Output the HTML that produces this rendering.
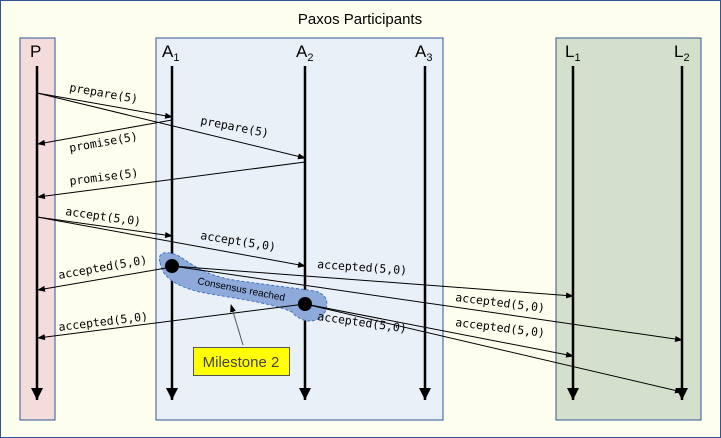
<!DOCTYPE html>
<html><head><meta charset="utf-8"><style>
html,body{margin:0;padding:0;background:#fff}
svg{display:block}
.m{font-family:"DejaVu Sans Mono","Liberation Mono",monospace;font-size:11.5px;fill:#000}
.h{font-family:"Liberation Sans",sans-serif;font-size:17px;fill:#000}
.s{font-family:"Liberation Sans",sans-serif;font-size:10px}
</style></head><body>
<svg width="721" height="438" viewBox="0 0 721 438" xmlns="http://www.w3.org/2000/svg">
<defs>
<marker id="a" markerWidth="8" markerHeight="6" refX="7" refY="3" orient="auto" markerUnits="userSpaceOnUse"><path d="M0,0 L8,3 L0,6 z" fill="#000"/></marker>
<marker id="b" markerWidth="12" markerHeight="12" refX="6" refY="12" orient="0" markerUnits="userSpaceOnUse"><path d="M0,0 L12,0 L6,12 z" fill="#000"/></marker>
</defs>
<rect x="0.5" y="0.5" width="720" height="437" fill="#fefeee" stroke="#2f5597"/>
<text x="360" y="24" text-anchor="middle" font-family="Liberation Sans,sans-serif" font-size="15">Paxos Participants</text>
<rect x="20" y="38" width="35" height="382" fill="#f5dcdc" stroke="#2f5597"/>
<rect x="156" y="38" width="287" height="382" fill="#e9f0f8" stroke="#2f5597"/>
<rect x="556" y="38" width="145" height="382" fill="#d5e0cc" stroke="#2f5597"/>
<text class="h" x="30" y="57">P</text>
<text class="h" x="162" y="57">A<tspan font-size="11" dy="4">1</tspan></text>
<text class="h" x="296" y="57">A<tspan font-size="11" dy="4">2</tspan></text>
<text class="h" x="415" y="57">A<tspan font-size="11" dy="4">3</tspan></text>
<text class="h" x="565" y="57">L<tspan font-size="11" dy="4">1</tspan></text>
<text class="h" x="674" y="57">L<tspan font-size="11" dy="4">2</tspan></text>
<g stroke="#000" stroke-width="2.5">
<line x1="37" y1="66" x2="37" y2="400" marker-end="url(#b)"/>
<line x1="172" y1="66" x2="172" y2="400" marker-end="url(#b)"/>
<line x1="305" y1="66" x2="305" y2="400" marker-end="url(#b)"/>
<line x1="425" y1="66" x2="425" y2="400" marker-end="url(#b)"/>
<line x1="573" y1="66" x2="573" y2="400" marker-end="url(#b)"/>
<line x1="682" y1="66" x2="682" y2="400" marker-end="url(#b)"/>
</g>
<path d="M160,262 C156,250 172,250 185,260 C200,270 212,277 240,281 L315,291 C330,295 328,306 324,314 C316,325 300,322 292,312 C270,302 230,298 200,292 C175,286 162,277 160,262 Z" fill="#8eaadb" stroke="#4472c4" stroke-dasharray="3,2"/>
<text class="s" x="197" y="284" transform="rotate(11 197 284)">Consensus reached</text>
<g stroke="#000" stroke-width="1" fill="none">
<line x1="37" y1="93" x2="172" y2="117" marker-end="url(#a)"/>
<line x1="37" y1="93" x2="305" y2="158" marker-end="url(#a)"/>
<line x1="172" y1="120" x2="38" y2="144" marker-end="url(#a)"/>
<line x1="305" y1="162" x2="38" y2="197" marker-end="url(#a)"/>
<line x1="37" y1="217" x2="172" y2="236" marker-end="url(#a)"/>
<line x1="37" y1="217" x2="305" y2="266" marker-end="url(#a)"/>
<line x1="172" y1="267" x2="38" y2="290" marker-end="url(#a)"/>
<line x1="172" y1="266" x2="573" y2="296" marker-end="url(#a)"/>
<line x1="172" y1="266" x2="682" y2="340" marker-end="url(#a)"/>
<line x1="305" y1="304" x2="38" y2="338" marker-end="url(#a)"/>
<line x1="305" y1="304" x2="573" y2="356" marker-end="url(#a)"/>
<line x1="305" y1="304" x2="682" y2="392" marker-end="url(#a)"/>
</g>
<circle cx="172" cy="266" r="7" fill="#000"/>
<circle cx="305" cy="304" r="7" fill="#000"/>
<text class="m" x="69" y="91" transform="rotate(10 69 91)">prepare(5)</text>
<text class="m" x="200" y="124" transform="rotate(11 200 124)">prepare(5)</text>
<text class="m" x="70" y="152" transform="rotate(-10 70 152)">promise(5)</text>
<text class="m" x="70" y="185" transform="rotate(-7 70 185)">promise(5)</text>
<text class="m" x="65" y="215" transform="rotate(8 65 215)">accept(5,0)</text>
<text class="m" x="200" y="239" transform="rotate(9 200 239)">accept(5,0)</text>
<text class="m" x="59" y="279" transform="rotate(-10 59 279)">accepted(5,0)</text>
<text class="m" x="317" y="268" transform="rotate(4 317 268)">accepted(5,0)</text>
<text class="m" x="455" y="301" transform="rotate(7 455 301)">accepted(5,0)</text>
<text class="m" x="59" y="331" transform="rotate(-7 59 331)">accepted(5,0)</text>
<text class="m" x="317" y="320" transform="rotate(8 317 320)">accepted(5,0)</text>
<text class="m" x="455" y="326" transform="rotate(7 455 326)">accepted(5,0)</text>
<line x1="243" y1="345" x2="231" y2="305" stroke="#555" stroke-width="1" marker-end="url(#a)"/>
<rect x="193.5" y="347.5" width="96" height="28" fill="#ffff00" stroke="#555"/>
<text x="241" y="367" text-anchor="middle" font-family="Liberation Sans,sans-serif" font-size="15" fill="#444">Milestone 2</text>
</svg>
</body></html>
